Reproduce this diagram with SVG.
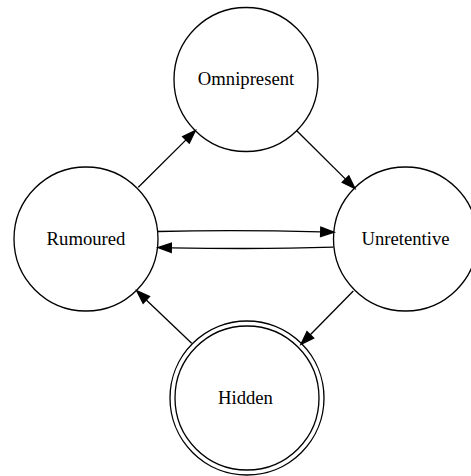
<svg xmlns="http://www.w3.org/2000/svg" width="471" height="476" viewBox="0 0 471 476">
<style>
.node circle{fill:none;stroke:#000;stroke-width:1.33}
.node text{font-size:18.67px;fill:#000;text-anchor:middle}
.edge{fill:none;stroke:#000;stroke-width:1.33}
</style>
<defs>
<marker id="ah" markerUnits="userSpaceOnUse" markerWidth="14" markerHeight="10" refX="0" refY="4.67" orient="auto" overflow="visible">
<path d="M0,0 L13.33,4.67 L0,9.33 Z" fill="#000" stroke="#000" stroke-width="1.33"/>
</marker>
</defs>
<rect width="471" height="476" fill="#fff"/>
<g id="connectors">
<path class="edge" d="M138.3,187.3 L186,139.9" marker-end="url(#ah)"/>
<path class="edge" d="M296.5,130.5 L345.5,179.1" marker-end="url(#ah)"/>
<path class="edge" d="M158,231.5 C200,230.5 280,230.8 320.7,231.9" marker-end="url(#ah)"/>
<path class="edge" d="M333.5,247.2 C290,248.5 210,248.5 171.3,247.8" marker-end="url(#ah)"/>
<path class="edge" d="M353.3,291 L310.3,334.8" marker-end="url(#ah)"/>
<path class="edge" d="M191.7,343.3 L146.3,299.9" marker-end="url(#ah)"/>
</g>
<g font-family="'Liberation Serif', 'DejaVu Serif', serif">
<g id="Omnipresent" class="node">
<circle cx="246" cy="79.5" r="72"/>
<text x="246" y="85">Omnipresent</text>
</g>
<g id="Rumoured" class="node">
<circle cx="86" cy="239" r="72"/>
<text x="86" y="245">Rumoured</text>
</g>
<g id="Unretentive" class="node">
<circle cx="405.5" cy="239" r="72"/>
<text x="405.5" y="245">Unretentive</text>
</g>
<g id="Hidden" class="node">
<circle cx="247" cy="398" r="72"/>
<circle cx="247" cy="398" r="77"/>
<text x="245.5" y="403.5">Hidden</text>
</g>
</g>
</svg>
